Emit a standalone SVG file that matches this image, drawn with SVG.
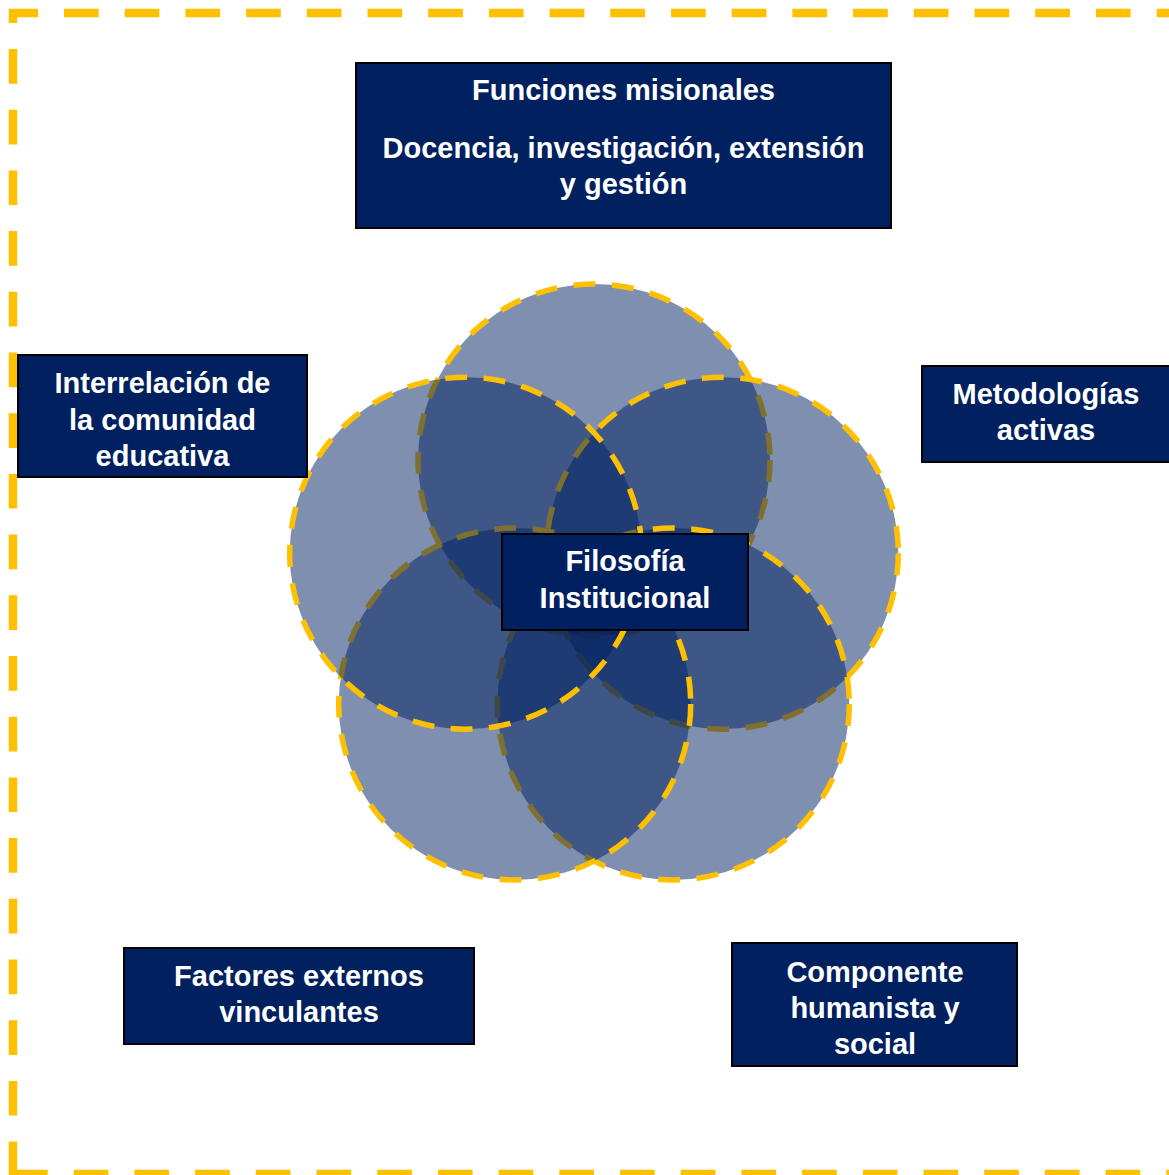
<svg xmlns="http://www.w3.org/2000/svg" width="1169" height="1175" viewBox="0 0 1169 1175">
  <style>
    .frame { stroke: #FFC000; stroke-width: 8.5; fill: none; stroke-dasharray: 34.7 26; }
    .petal { fill: #002060; fill-opacity: 0.5; stroke: #FFC000; stroke-width: 5.5; stroke-dasharray: 22 16.5; }
    .box { fill: #002060; stroke: #000000; stroke-width: 2; }
    .lbl { font-family: "Liberation Sans", Arial, sans-serif; font-weight: bold; font-size: 29px; fill: #FFFFFF; text-anchor: middle; }
  </style>
  <rect x="0" y="0" width="1169" height="1175" fill="#FFFFFF"/>

  <g id="frame">
    <line class="frame" x1="9" y1="13" x2="1175" y2="13" stroke-dashoffset="5.7"/>
    <line class="frame" x1="13" y1="9" x2="13" y2="1178" stroke-dashoffset="20.7"/>
    <line class="frame" x1="13" y1="1174" x2="1175" y2="1174"/>
  </g>

  <g id="circles">
    <circle id="circle-top" class="petal" cx="594" cy="460" r="176"/>
    <circle id="circle-right" class="petal" cx="722.3" cy="553.2" r="176"/>
    <circle id="circle-bottom-right" class="petal" cx="673.3" cy="704" r="176"/>
    <circle id="circle-bottom-left" class="petal" cx="514.7" cy="704" r="176"/>
    <circle id="circle-left" class="petal" cx="465.7" cy="553.2" r="176"/>
  </g>

  <g id="node-funciones">
    <rect class="box" x="356" y="63" width="535" height="165"/>
    <text class="lbl" x="623.5" y="100">Funciones misionales</text>
    <text class="lbl" x="623.5" y="158">Docencia, investigación, extensión</text>
    <text class="lbl" x="623.5" y="194">y gestión</text>
  </g>

  <g id="node-interrelacion">
    <rect class="box" x="18" y="355" width="289" height="122"/>
    <text class="lbl" x="162.5" y="393">Interrelación de</text>
    <text class="lbl" x="162.5" y="429.5">la comunidad</text>
    <text class="lbl" x="162.5" y="466">educativa</text>
  </g>

  <g id="node-metodologias">
    <rect class="box" x="922" y="366" width="260" height="96"/>
    <text class="lbl" x="1046" y="404">Metodologías</text>
    <text class="lbl" x="1046" y="440">activas</text>
  </g>

  <g id="node-filosofia">
    <rect class="box" x="502" y="534" width="246" height="96"/>
    <text class="lbl" x="625" y="571">Filosofía</text>
    <text class="lbl" x="625" y="608">Institucional</text>
  </g>

  <g id="node-factores">
    <rect class="box" x="124" y="948" width="350" height="96"/>
    <text class="lbl" x="299" y="986">Factores externos</text>
    <text class="lbl" x="299" y="1022">vinculantes</text>
  </g>

  <g id="node-componente">
    <rect class="box" x="732" y="943" width="285" height="123"/>
    <text class="lbl" x="875" y="981.5">Componente</text>
    <text class="lbl" x="875" y="1017.5">humanista y</text>
    <text class="lbl" x="875" y="1054">social</text>
  </g>
</svg>
